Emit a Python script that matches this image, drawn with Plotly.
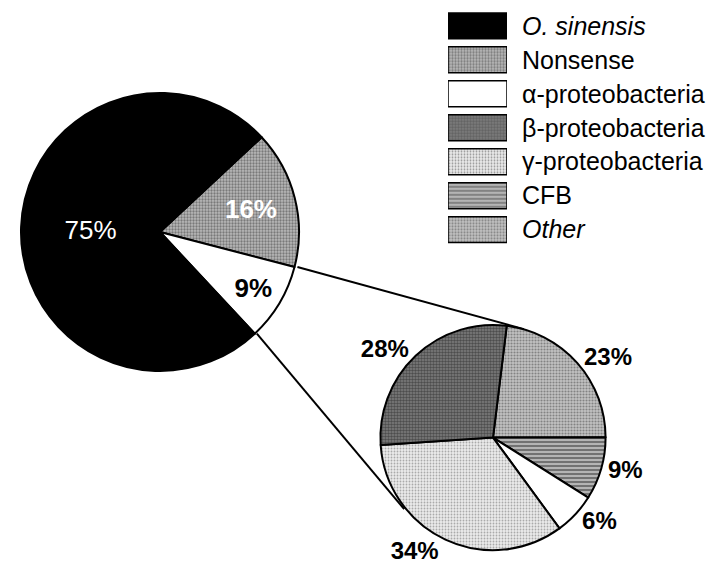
import math
import plotly.graph_objects as go

W, H = 709, 569

# Overall composition of the clone library (percent)
main_labels = ["Nonsense", "α-proteobacteria", "O. sinensis"]
main_values = [16, 9, 75]

# Breakdown of the bacterial clones (percent)
sub_labels = ["Other", "CFB", "α-proteobacteria", "γ-proteobacteria", "β-proteobacteria"]
sub_values = [23, 9, 6, 34, 28]

# Legend entries, top to bottom
legend_labels = ["O. sinensis", "Nonsense", "α-proteobacteria", "β-proteobacteria",
                 "γ-proteobacteria", "CFB", "Other"]
italic_labels = {"O. sinensis", "Other"}

# Halftone-like fills for each group: (background, dot colour, shape, size, solidity)
FILLS = {
    "O. sinensis":      ("#000000", "#000000", "",  4, 0.3),
    "Nonsense":         ("#b8b8b8", "#3a3a3a", ".", 3, 0.45),
    "α-proteobacteria": ("#ffffff", "#ffffff", "",  4, 0.3),
    "β-proteobacteria": ("#808080", "#1a1a1a", ".", 3, 0.55),
    "γ-proteobacteria": ("#eaeaea", "#6a6a6a", ".", 3, 0.3),
    "CFB":              ("#b4b4b4", "#202020", "-", 4, 0.45),
    "Other":            ("#c2c2c2", "#444444", ".", 3, 0.4),
}


def marker_for(labels):
    return dict(
        colors=[FILLS[l][0] for l in labels],
        line=dict(color="black", width=2),
        pattern=dict(
            fillmode="overlay",
            fgcolor=[FILLS[l][1] for l in labels],
            shape=[FILLS[l][2] for l in labels],
            size=[FILLS[l][3] for l in labels],
            solidity=[FILLS[l][4] for l in labels],
        ),
    )


# pie placement in pixels: centre and radius
C1, R1 = (160, 237), 142
C2, R2 = (493, 447), 115
ROT1, ROT2 = 47, 7
FONT = "Liberation Sans, Arial, Helvetica, sans-serif"


def domain(c, r):
    return dict(x=[(c[0] - r) / W, (c[0] + r) / W],
                y=[(H - c[1] - r) / H, (H - c[1] + r) / H])


main_text = []
main_colors = []
for lab, v in zip(main_labels, main_values):
    if lab == "O. sinensis":
        main_text.append(f"{v}%")
        main_colors.append("white")
    elif lab == "Nonsense":
        main_text.append(f"<b>{v}%</b>")
        main_colors.append("white")
    else:
        main_text.append(f"<b>{v}%</b>")
        main_colors.append("black")

fig = go.Figure()

fig.add_trace(go.Pie(
    labels=main_labels, values=main_values, sort=False, direction="clockwise",
    rotation=ROT1, domain=domain(C1, R1), marker=marker_for(main_labels),
    text=main_text, textinfo="text", textposition="inside",
    insidetextorientation="horizontal",
    textfont=dict(family=FONT, size=26, color=main_colors),
    showlegend=False, hoverinfo="label+percent",
))

fig.add_trace(go.Pie(
    labels=sub_labels, values=sub_values, sort=False, direction="clockwise",
    rotation=ROT2, domain=domain(C2, R2), marker=marker_for(sub_labels),
    text=[f"<b>{v}%</b>" for v in sub_values], textinfo="text", textposition="outside",
    outsidetextfont=dict(family=FONT, size=24, color="black"),
    showlegend=False, hoverinfo="label+percent",
))

# Legend swatches drawn as equal-length bars
fig.add_trace(go.Bar(
    y=legend_labels, x=[1] * len(legend_labels), orientation="h",
    marker=dict(
        color=[FILLS[l][0] for l in legend_labels],
        line=dict(color="black", width=1.5),
        pattern=dict(
            fillmode="overlay",
            fgcolor=[FILLS[l][1] for l in legend_labels],
            shape=[FILLS[l][2] for l in legend_labels],
            size=[FILLS[l][3] for l in legend_labels],
            solidity=[FILLS[l][4] for l in legend_labels],
        ),
    ),
    width=0.76, showlegend=False, hoverinfo="y",
))


# Connector lines: from the α slice edges of the main pie, tangent to the breakdown pie
def edge_point(c, r, ang_deg):
    a = math.radians(ang_deg)
    return c[0] + r * math.sin(a), c[1] - r * math.cos(a)


def tangent_point(p, c, r, upper):
    dx, dy = p[0] - c[0], p[1] - c[1]
    d = math.hypot(dx, dy)
    theta = math.atan2(dy, dx)
    off = math.acos(r / d)
    cands = [theta + off, theta - off]
    pts = [(c[0] + r * math.cos(t), c[1] + r * math.sin(t)) for t in cands]
    return min(pts, key=lambda q: q[1]) if upper else max(pts, key=lambda q: q[1])


start = ROT1 + 360 * main_values[0] / sum(main_values)
end = start + 360 * main_values[1] / sum(main_values)
p1 = edge_point(C1, R1, start)
p2 = edge_point(C1, R1, end)
q1 = tangent_point(p1, C2, R2, upper=True)
q2 = tangent_point(p2, C2, R2, upper=False)

for p, q in ((p1, q1), (p2, q2)):
    fig.add_shape(type="line", xref="paper", yref="paper",
                  x0=p[0] / W, y0=1 - p[1] / H, x1=q[0] / W, y1=1 - q[1] / H,
                  line=dict(color="black", width=2), layer="below")

fig.update_layout(
    width=W, height=H,
    margin=dict(l=0, r=0, t=0, b=0),
    paper_bgcolor="white", plot_bgcolor="white",
    font=dict(family=FONT, color="black"),
    xaxis=dict(domain=[448 / W, 507 / W], range=[0, 1], visible=False, fixedrange=True),
    yaxis=dict(
        domain=[(H - 252) / H, (H - 9) / H], type="category", autorange="reversed",
        side="right", showgrid=False, zeroline=False, showline=False, ticks="",
        tickmode="array", tickvals=legend_labels,
        ticktext=[f"<i>{l}</i>" if l in italic_labels else l for l in legend_labels],
        tickfont=dict(family=FONT, size=25, color="black"),
        ticklabelstandoff=14, fixedrange=True,
    ),
    bargap=0.24,
)

fig.write_html("out.html")
